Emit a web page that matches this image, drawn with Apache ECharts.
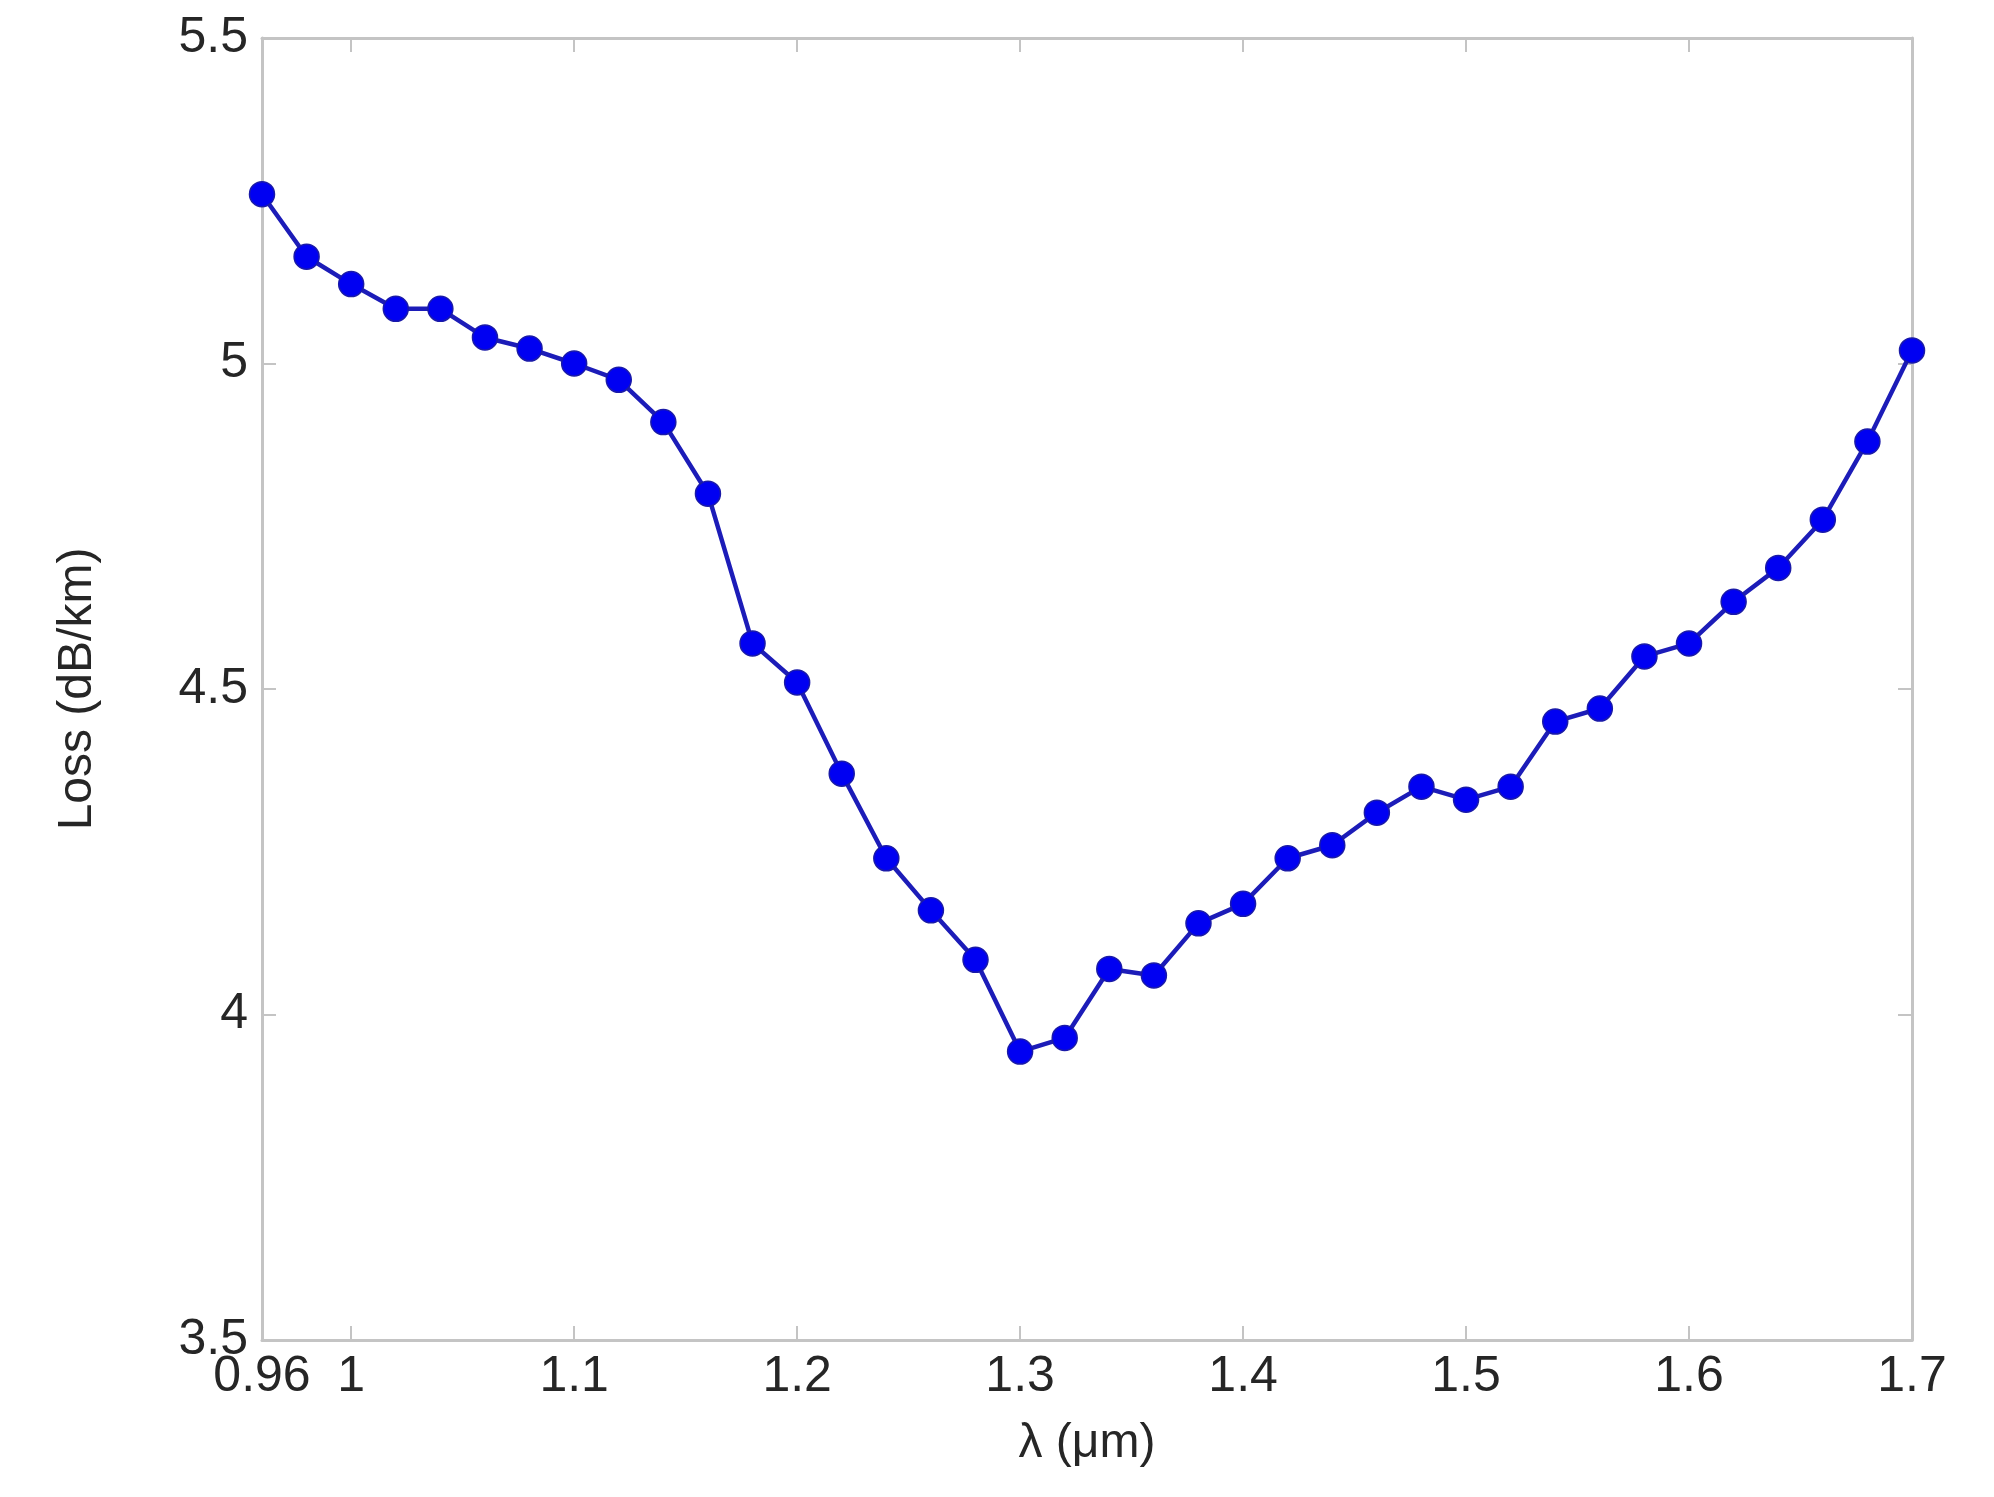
<!DOCTYPE html>
<html>
<head>
<meta charset="utf-8">
<script src="https://cdn.jsdelivr.net/npm/echarts@6/dist/echarts.min.js"></script>
<style>
  html, body { margin: 0; padding: 0; background: #fff; }
  #chart { width: 1994px; height: 1497px; }
</style>
</head>
<body>
<div id="chart"></div>
<script>
// wavelength (um) and measured loss (dB/km)
const wavelength = [
  0.96, 0.98, 1.00, 1.02, 1.04, 1.06, 1.08, 1.10, 1.12, 1.14,
  1.16, 1.18, 1.20, 1.22, 1.24, 1.26, 1.28, 1.30, 1.32, 1.34,
  1.36, 1.38, 1.40, 1.42, 1.44, 1.46, 1.48, 1.50, 1.52, 1.54,
  1.56, 1.58, 1.60, 1.62, 1.64, 1.66, 1.68, 1.70,
];
const loss = [
  5.26, 5.164, 5.122, 5.084, 5.084, 5.04, 5.023, 5.00, 4.975, 4.91,
  4.80, 4.57, 4.51, 4.37, 4.24, 4.16, 4.084, 3.943, 3.964, 4.07,
  4.06, 4.14, 4.17, 4.24, 4.26, 4.31, 4.35, 4.33, 4.35, 4.45,
  4.47, 4.55, 4.57, 4.634, 4.686, 4.76, 4.88, 5.02,
];
const xTicks = [0.96, 1, 1.1, 1.2, 1.3, 1.4, 1.5, 1.6, 1.7];
const yMin = 3.5, yMax = 5.5, yStep = 0.5;

const FONT = "'Liberation Sans', Arial, sans-serif";
const AXIS_GRAY = "#c4c4c4";
const TEXT = "#262626";

const chart = echarts.init(document.getElementById("chart"), null, { renderer: "canvas" });

const boxLine = { show: true, onZero: false, lineStyle: { color: AXIS_GRAY, width: 3 } };
const tickIn = { show: true, inside: true, length: 14, lineStyle: { color: AXIS_GRAY, width: 2 } };

const opt = {
  backgroundColor: "#fff",
  animation: false,
  grid: { left: 262, right: 82, top: 38, bottom: 157, containLabel: false },
  xAxis: [
    {
      type: "value", min: 0.96, max: 1.7,
      name: "λ (μm)", nameLocation: "middle", nameGap: 80,
      nameTextStyle: { fontFamily: FONT, fontSize: 48, color: TEXT },
      axisLine: boxLine,
      axisTick: { ...tickIn, customValues: xTicks },
      axisLabel: {
        customValues: xTicks, margin: 12, fontFamily: FONT, fontSize: 50, color: TEXT,
        formatter: (v) => String(+v.toFixed(2)),
      },
      splitLine: { show: false },
    },
    {
      type: "value", min: 0.96, max: 1.7, position: "top",
      axisLine: boxLine,
      axisTick: { ...tickIn, customValues: xTicks },
      axisLabel: { show: false },
      splitLine: { show: false },
    },
  ],
  yAxis: [
    {
      type: "value", min: yMin, max: yMax, interval: yStep,
      name: "Loss (dB/km)", nameLocation: "middle", nameGap: 160, nameRotate: 90,
      nameTextStyle: { fontFamily: FONT, fontSize: 48, color: TEXT },
      axisLine: boxLine,
      axisTick: tickIn,
      axisLabel: {
        margin: 14, fontFamily: FONT, fontSize: 50, color: TEXT,
        formatter: (v) => String(+v.toFixed(1)),
      },
      splitLine: { show: false },
    },
    {
      type: "value", min: yMin, max: yMax, interval: yStep, position: "right",
      axisLine: boxLine,
      axisTick: tickIn,
      axisLabel: { show: false },
      splitLine: { show: false },
    },
  ],
  series: [{
    type: "line",
    data: wavelength.map((w, i) => [w, loss[i]]),
    symbol: "circle",
    symbolSize: 25,
    showSymbol: true,
    clip: false,
    lineStyle: { color: "#1c1cb8", width: 4.5 },
    itemStyle: { color: "#0000f2", borderColor: "#1a1aa8", borderWidth: 1.5 },
  }],
};
chart.setOption(opt, true);
</script>
</body>
</html>
